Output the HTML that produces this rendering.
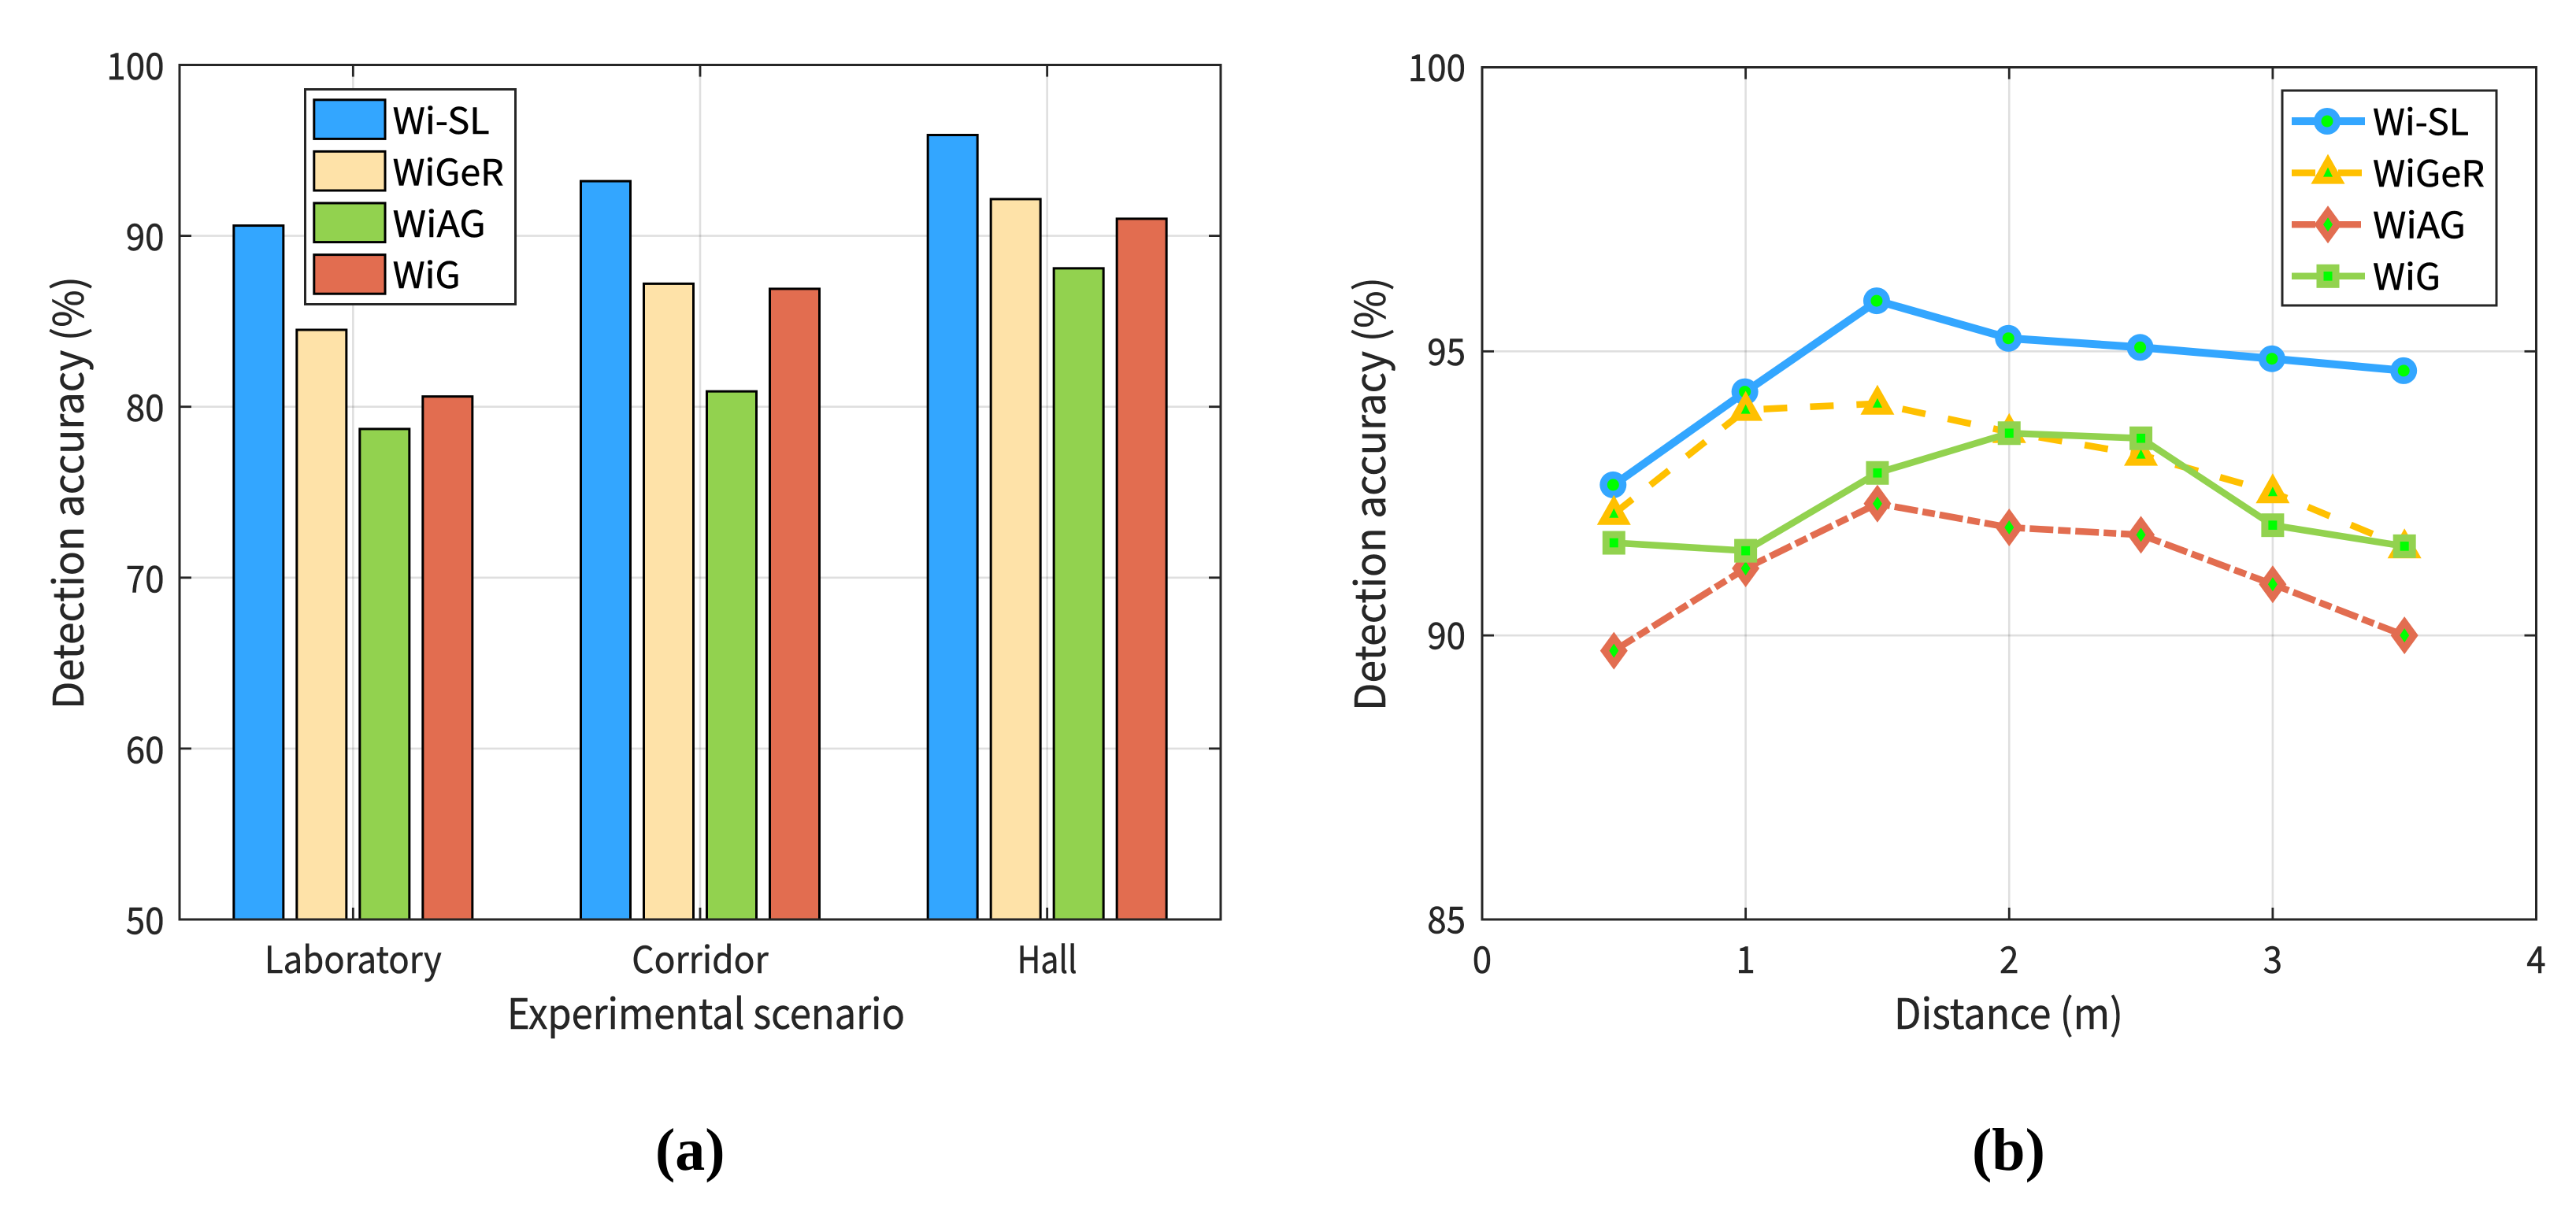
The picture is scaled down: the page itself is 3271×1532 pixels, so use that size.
<!DOCTYPE html>
<html lang="en">
<head>
<meta charset="utf-8">
<title>Detection accuracy charts</title>
<style>
html,body{margin:0;padding:0;background:#fff;width:3271px;height:1532px;overflow:hidden}
svg{display:block}
text{font-family:"Noto Sans CJK SC","Liberation Sans",sans-serif;fill:#262626;stroke:#262626;stroke-width:.5px}
.cap{font-family:"Liberation Serif",serif;font-weight:bold;font-size:76px;fill:#000;stroke:none}
</style>
</head>
<body>
<svg id="fig" xmlns="http://www.w3.org/2000/svg" width="3271" height="1532" viewBox="0 0 3271 1532">
  <rect x="0" y="0" width="3271" height="1532" fill="#fff"/>
  <g id="chartA"></g>
  <g id="chartB"></g>
  <text transform="translate(106 901) rotate(-90)" font-size="53" textLength="550" lengthAdjust="spacingAndGlyphs">Detection accuracy (%)</text>
  <text x="644" y="1307" font-size="53" textLength="505" lengthAdjust="spacingAndGlyphs">Experimental scenario</text>
  <text transform="translate(1759 903) rotate(-90)" font-size="53" textLength="551" lengthAdjust="spacingAndGlyphs">Detection accuracy (%)</text>
  <text x="2405" y="1307" font-size="53" textLength="291" lengthAdjust="spacingAndGlyphs">Distance (m)</text>
  <text class="cap" x="832" y="1486">(a)</text>
  <text class="cap" x="2504" y="1486">(b)</text>
</svg>
<script>
// ---- Bar chart data ----
const categories = ['Laboratory', 'Corridor', 'Hall'];
const barWiSL = [90.6, 93.2, 95.9];
const barWiGeR = [84.5, 87.2, 92.15];
const barWiAG = [78.7, 80.9, 88.1];
const barWiG = [80.6, 86.9, 91.0];
const barYTicks = [50, 60, 70, 80, 90, 100];

// ---- Line chart data ----
const distances = [0.5, 1, 1.5, 2, 2.5, 3, 3.5];
const lineWiSL = [92.65, 94.29, 95.89, 95.23, 95.07, 94.87, 94.66];
const lineWiGeR = [92.14, 93.97, 94.08, 93.58, 93.18, 92.52, 91.55];
const lineWiAG = [89.73, 91.18, 92.32, 91.9, 91.77, 90.9, 90.0];
const lineWiG = [91.63, 91.49, 92.86, 93.56, 93.47, 91.94, 91.57];
const lineXTicks = [0, 1, 2, 3, 4];
const lineYTicks = [85, 90, 95, 100];

const seriesNames = ['Wi-SL', 'WiGeR', 'WiAG', 'WiG'];

const NS = 'http://www.w3.org/2000/svg';
const INK = '#262626';
function mk(parent, tag, attrs) {
  const e = document.createElementNS(NS, tag);
  for (const k in attrs) e.setAttribute(k, attrs[k]);
  parent.appendChild(e);
  return e;
}

// ---- Axis functions ----
const A = {left: 228, right: 1550, top: 82.5, bottom: 1168};
const B = {left: 1882, right: 3220.5, top: 85.5, bottom: 1168};
const aGroupX = i => A.left + (i + 0.5) * (A.right - A.left) / categories.length;
const aY = v => A.bottom - (v - 50) * (A.bottom - A.top) / 50;
const bX = v => B.left + v * (B.right - B.left) / 4;
const bY = v => B.bottom - (v - 85) * (B.bottom - B.top) / 15;

function gridAndTicks(root, box, xs, ys, prefix) {
  const gridStyle = {stroke: INK, 'stroke-opacity': 0.15, 'stroke-width': 2.6, fill: 'none'};
  xs.forEach((x, i) => {
    const g = mk(root, 'line', Object.assign({x1: x, x2: x, y1: box.top, y2: box.bottom}, gridStyle));
    
    
  });
  ys.forEach((y, i) => {
    const g = mk(root, 'line', Object.assign({x1: box.left, x2: box.right, y1: y, y2: y}, gridStyle));
    
    
  });
  const tickStyle = {stroke: INK, 'stroke-width': 2.8};
  xs.forEach(x => {
    [[box.top, box.top + 15], [box.bottom, box.bottom - 15]].forEach(p => {
      const t = mk(root, 'line', Object.assign({x1: x, x2: x, y1: p[0], y2: p[1]}, tickStyle));
      
      
    });
  });
  ys.forEach(y => {
    [[box.left, box.left + 15], [box.right, box.right - 15]].forEach(p => {
      const t = mk(root, 'line', Object.assign({x1: p[0], x2: p[1], y1: y, y2: y}, tickStyle));
      
      
    });
  });
}
function frame(root, box, name) {
  const f = mk(root, 'rect', {x: box.left, y: box.top, width: box.right - box.left, height: box.bottom - box.top, fill: 'none', stroke: INK, 'stroke-width': 3});
  
  
}
function numLabel(root, str, x, y, anchor, name) {
  const t = mk(root, 'text', {x: x, y: y, 'font-size': 47, 'text-anchor': anchor, textLength: str.length * 24.4, lengthAdjust: 'spacingAndGlyphs'});
  t.textContent = str;
  
  
}

// ---- Panel (a): grouped bars ----
const barColors = ['#33a6ff', '#fee2a8', '#92d24f', '#e26d50'];
const barSeries = [barWiSL, barWiGeR, barWiAG, barWiG];
const chartA = document.getElementById('chartA');
gridAndTicks(chartA, A, categories.map((c, i) => aGroupX(i)), barYTicks.slice(1, -1).map(aY), 'bar-chart');

barSeries.forEach((vals, s) => {
  vals.forEach((v, i) => {
    const cx = aGroupX(i) + (s - 1.5) * 80;
    const r = mk(chartA, 'rect', {x: cx - 31.5, y: aY(v), width: 63, height: A.bottom - aY(v), fill: barColors[s], stroke: '#000', 'stroke-width': 3});
    
    
  });
});
frame(chartA, A, 'bar-chart-frame');

barYTicks.forEach(v => {
  numLabel(chartA, String(v), 208.5, aY(v) + 18.5, 'end', 'bar-chart-y-tick-label');
});
const catWidths = [225, 173.5, 76];
categories.forEach((c, i) => {
  const t = mk(chartA, 'text', {x: aGroupX(i), y: 1236, 'font-size': 47, 'text-anchor': 'middle', textLength: catWidths[i], lengthAdjust: 'spacingAndGlyphs'});
  t.textContent = c;
  
  
});

// bar legend
const legA = mk(chartA, 'g', {});


const legABox = mk(legA, 'rect', {x: 387.5, y: 113.5, width: 267, height: 273, fill: '#fff', stroke: INK, 'stroke-width': 3});


const legATextWidths = [123, 141, 118, 86];
seriesNames.forEach((n, s) => {
  const top = 126.8 + s * 65.6;
  const sw = mk(legA, 'rect', {x: 398.8, y: top, width: 90.2, height: 49.6, fill: barColors[s], stroke: '#000', 'stroke-width': 3});
  
  
  const t = mk(legA, 'text', {x: 498.7, y: 170 + s * 65.4, 'font-size': 46, textLength: legATextWidths[s], lengthAdjust: 'spacingAndGlyphs', style: 'fill:#000;stroke:#000'});
  t.textContent = n;
  
  
});

// ---- Panel (b): lines ----
const lineColors = ['#33a6ff', '#ffc000', '#e26d50', '#92d24f'];
const lineWidths = [10, 8.5, 8.5, 8.5];
const lineDashes = ['none', '30 29', '30 6 16 6', 'none'];
const lineKinds = ['circle', 'triangle', 'diamond', 'square'];
const lineSeries = [lineWiSL, lineWiGeR, lineWiAG, lineWiG];
const MARK = '#00ff00';

function marker(root, kind, color, x, y) {
  const g = mk(root, 'g', {});
  
  
  if (kind === 'circle') {
    mk(g, 'circle', {cx: x - 1, cy: y, r: 17, fill: color});
    mk(g, 'circle', {cx: x - 1, cy: y, r: 7.5, fill: MARK});
  } else if (kind === 'triangle') {
    mk(g, 'polygon', {points: `${x},${y - 24} ${x + 21.5},${y + 14} ${x - 21.5},${y + 14}`, fill: color});
    mk(g, 'polygon', {points: `${x},${y - 7} ${x + 6},${y + 5} ${x - 6},${y + 5}`, fill: MARK});
  } else if (kind === 'diamond') {
    mk(g, 'polygon', {points: `${x},${y - 24} ${x + 17.5},${y} ${x},${y + 24} ${x - 17.5},${y}`, fill: color});
    mk(g, 'polygon', {points: `${x},${y - 9} ${x + 6},${y} ${x},${y + 9} ${x - 6},${y}`, fill: MARK});
  } else {
    mk(g, 'rect', {x: x - 14.5, y: y - 15, width: 29, height: 30, fill: color});
    mk(g, 'rect', {x: x - 5.5, y: y - 5.8, width: 11, height: 11.6, fill: MARK});
  }
}

const chartB = document.getElementById('chartB');
gridAndTicks(chartB, B, lineXTicks.slice(1, -1).map(bX), lineYTicks.slice(1, -1).map(bY), 'line-chart');

lineSeries.forEach((vals, s) => {
  const pts = vals.map((v, i) => bX(distances[i]).toFixed(1) + ',' + bY(v).toFixed(1)).join(' ');
  const g = mk(chartB, 'g', {});
  
  
  const l = mk(g, 'polyline', {points: pts, fill: 'none', stroke: lineColors[s], 'stroke-width': lineWidths[s], 'stroke-dasharray': lineDashes[s], 'stroke-linejoin': 'round'});
  
  
  vals.forEach((v, i) => marker(g, lineKinds[s], lineColors[s], bX(distances[i]), bY(v)));
});
frame(chartB, B, 'line-chart-frame');

lineYTicks.forEach(v => {
  numLabel(chartB, String(v), 1861, bY(v) + 17.5, 'end', 'line-chart-y-tick-label');
});
lineXTicks.forEach(v => {
  numLabel(chartB, String(v), bX(v), 1236, 'middle', 'line-chart-x-tick-label');
});

// line legend
const legB = mk(chartB, 'g', {});


const legBBox = mk(legB, 'rect', {x: 2898, y: 115, width: 272, height: 273, fill: '#fff', stroke: INK, 'stroke-width': 3});


const legBTextWidths = [122, 142, 118, 86];
seriesNames.forEach((n, s) => {
  const y = 154 + s * 65.6;
  const l = mk(legB, 'line', {x1: 2910, x2: 3003, y1: y, y2: y, stroke: lineColors[s], 'stroke-width': lineWidths[s], 'stroke-dasharray': lineDashes[s]});
  
  
  marker(legB, lineKinds[s], lineColors[s], 2956, y);
  const t = mk(legB, 'text', {x: 3013, y: 171.7 + s * 65.4, 'font-size': 46, textLength: legBTextWidths[s], lengthAdjust: 'spacingAndGlyphs', style: 'fill:#000;stroke:#000'});
  t.textContent = n;
  
  
});
</script>
</body>
</html>
